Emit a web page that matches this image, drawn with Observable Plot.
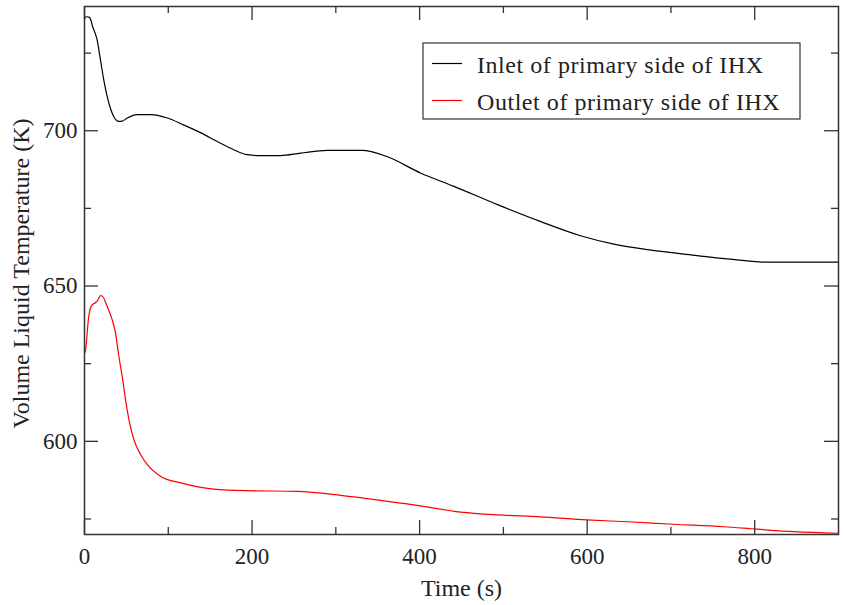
<!DOCTYPE html>
<html>
<head>
<meta charset="utf-8">
<script src="https://cdn.jsdelivr.net/npm/d3@7"></script>
<script src="https://cdn.jsdelivr.net/npm/@observablehq/plot@0.6"></script>
<style>
  html, body { margin: 0; padding: 0; background: #fff; }
  #wrap { position: relative; width: 844px; height: 605px; }
  #legend { position: absolute; left: 422px; top: 42px; }
</style>
</head>
<body>
<div id="wrap"></div>
<script>
// ---- data ----
const timeInlet = [0, 3, 6, 10, 15, 19, 23, 29, 35, 41, 45, 51, 63, 79, 99, 118, 139, 158, 178, 194, 210, 234, 258, 290, 331, 361, 401, 441, 493, 544, 592, 632, 672, 731, 791, 811, 855, 900];
const tempInlet = [736.3, 736.7, 736.5, 733.3, 729.3, 722.9, 716.4, 709.0, 704.5, 703.0, 703.1, 704.1, 705.2, 705.2, 704.1, 701.9, 699.3, 696.6, 693.9, 692.3, 692.0, 692.0, 692.8, 693.7, 693.7, 691.7, 686.4, 682.1, 676.2, 670.8, 666.2, 663.5, 661.7, 659.8, 658.1, 657.7, 657.7, 657.7];

const timeOutlet = [0, 1, 5, 9, 13, 16, 19, 21, 27, 33, 37, 41, 45, 49, 53, 59, 67, 75, 91, 115, 154, 194, 254, 306, 333, 401, 449, 493, 544, 600, 648, 703, 763, 803, 847, 899];
const tempOutlet = [628.5, 629.0, 640.1, 643.9, 644.6, 645.5, 646.9, 646.8, 643.5, 639.2, 634.9, 627.4, 620.9, 613.4, 607.0, 600.5, 595.7, 592.5, 588.7, 586.6, 584.6, 584.1, 583.9, 582.6, 581.7, 579.2, 577.2, 576.3, 575.7, 574.7, 574.1, 573.3, 572.5, 571.7, 570.9, 570.4];

const seriesNames = ["Inlet of primary side of IHX", "Outlet of primary side of IHX"];
const seriesColors = ["#000000", "#ff0000"];

const xMajor = [0, 200, 400, 600, 800];
const xMinor = [100, 300, 500, 700];
const yMajor = [600, 650, 700];
const yMinor = [575, 625, 675, 725];

const xLabel = "Time (s)";
const yLabel = "Volume Liquid Temperature (K)";

// ---- tables ----
const inlet = timeInlet.map((t, i) => ({t, v: tempInlet[i]}));
const outlet = timeOutlet.map((t, i) => ({t, v: tempOutlet[i]}));

// ---- layout ----
const W = 844, H = 605, mL = 84, mR = 6, mT = 6, mB = 71;
const fw = W - mL - mR, fh = H - mT - mB;
const majorLen = 14, minorLen = 7;
const axisStroke = "#333";
const tk = {stroke: axisStroke, strokeWidth: 1.3};

const chart = Plot.plot({
  width: W,
  height: H,
  marginLeft: mL,
  marginRight: mR,
  marginTop: mT,
  marginBottom: mB,
  x: {domain: [0, 900]},
  y: {domain: [570, 740]},
  style: {fontFamily: "'Liberation Serif', serif", fontSize: "23px", color: "#222", background: "#fff"},
  marks: [
    Plot.line(inlet, {x: "t", y: "v", stroke: seriesColors[0], strokeWidth: 1.2, curve: "monotone-x"}),
    Plot.line(outlet, {x: "t", y: "v", stroke: seriesColors[1], strokeWidth: 1.2, curve: "monotone-x"}),
    // inward ticks on all four sides
    Plot.tickX(xMajor, {x: d => d, insetTop: fh - majorLen, ...tk}),
    Plot.tickX(xMinor, {x: d => d, insetTop: fh - minorLen, ...tk}),
    Plot.tickX(xMajor, {x: d => d, insetBottom: fh - majorLen, ...tk}),
    Plot.tickX(xMinor, {x: d => d, insetBottom: fh - minorLen, ...tk}),
    Plot.tickY(yMajor, {y: d => d, insetRight: fw - majorLen, ...tk}),
    Plot.tickY(yMinor, {y: d => d, insetRight: fw - minorLen, ...tk}),
    Plot.tickY(yMajor, {y: d => d, insetLeft: fw - majorLen, ...tk}),
    Plot.tickY(yMinor, {y: d => d, insetLeft: fw - minorLen, ...tk}),
    // tick labels
    Plot.axisX(xMajor, {anchor: "bottom", tickSize: 0, tickPadding: 13, label: null, fill: "#222", fontSize: 23, tickFormat: d => String(d)}),
    Plot.axisY(yMajor, {anchor: "left", tickSize: 0, tickPadding: 7, label: null, fill: "#222", fontSize: 23, tickFormat: d => String(d)}),
    // axis titles
    Plot.text([xLabel], {frameAnchor: "bottom", lineAnchor: "middle", textAnchor: "middle", dy: 54, fontSize: 24, fill: "#222"}),
    Plot.text([yLabel], {frameAnchor: "left", lineAnchor: "middle", textAnchor: "middle", rotate: -90, dx: -63, dy: 3, fontSize: 24, fill: "#222"}),
    Plot.frame({stroke: axisStroke, strokeWidth: 1.5})
  ]
});

const wrap = document.getElementById("wrap");
wrap.appendChild(chart);

// ---- legend ----
const ns = "http://www.w3.org/2000/svg";
const leg = document.createElementNS(ns, "svg");
leg.setAttribute("id", "legend");
leg.setAttribute("width", 380);
leg.setAttribute("height", 79);
const box = document.createElementNS(ns, "rect");
box.setAttribute("x", 1); box.setAttribute("y", 1);
box.setAttribute("width", 377); box.setAttribute("height", 76);
box.setAttribute("fill", "#fff"); box.setAttribute("stroke", "#333"); box.setAttribute("stroke-width", 1.2);
leg.appendChild(box);
const rowsY = [21.5, 58.5];
seriesNames.forEach((name, i) => {
  const ln = document.createElementNS(ns, "line");
  ln.setAttribute("x1", 10); ln.setAttribute("x2", 40);
  ln.setAttribute("y1", rowsY[i]); ln.setAttribute("y2", rowsY[i]);
  ln.setAttribute("stroke", seriesColors[i]); ln.setAttribute("stroke-width", 1.2);
  leg.appendChild(ln);
  const tx = document.createElementNS(ns, "text");
  tx.setAttribute("x", 55); tx.setAttribute("y", rowsY[i] + 9);
  tx.setAttribute("font-family", "'Liberation Serif', serif");
  tx.setAttribute("font-size", 24);
  tx.setAttribute("letter-spacing", "0.55px");
  tx.setAttribute("fill", "#222");
  tx.textContent = name;
  leg.appendChild(tx);
});
wrap.appendChild(leg);
</script>
</body>
</html>
